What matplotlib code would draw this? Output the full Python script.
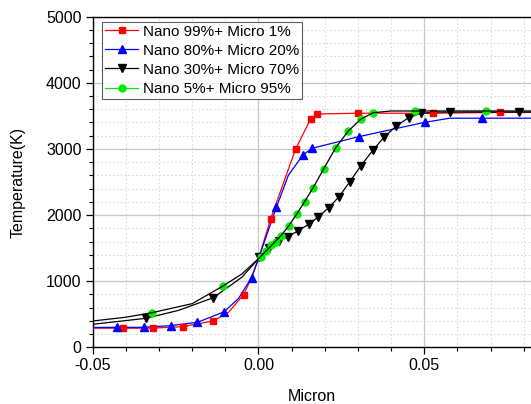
import matplotlib
matplotlib.use("Agg")
import matplotlib.pyplot as plt
from matplotlib.lines import Line2D
from matplotlib.ticker import MultipleLocator, FormatStrFormatter

plt.rcParams['font.family'] = ['Liberation Sans', 'DejaVu Sans']

# Nano 99% + Micro 1% (red squares)
red_x = [-0.0408, -0.0319, -0.0228, -0.0136, -0.0045, 0.0037, 0.0112, 0.0157, 0.0176, 0.0299, 0.0525, 0.0730]
red_y = [287, 290, 312, 398, 796, 1946, 2999, 3448, 3528, 3540, 3540, 3553]
red_line_x = [-0.05, -0.0408, -0.0319, -0.0228, -0.0136, -0.009, -0.0045, -0.002, 0.0, 0.0037, 0.0112, 0.0157, 0.0176, 0.0299, 0.0525, 0.0730, 0.085]
red_line_y = [290, 288, 290, 312, 400, 530, 796, 1060, 1340, 1946, 2999, 3448, 3528, 3540, 3540, 3553, 3553]

# Nano 80% + Micro 20% (blue triangles)
blue_x = [-0.0427, -0.0346, -0.0265, -0.0184, -0.0103, -0.0021, 0.0054, 0.0134, 0.0161, 0.0302, 0.0501, 0.0673]
blue_y = [302, 302, 328, 378, 539, 1053, 2117, 2908, 3009, 3185, 3402, 3465]
blue_line_x = [-0.05, -0.0427, -0.0346, -0.0265, -0.0184, -0.0103, -0.006, -0.0021, 0.0, 0.0054, 0.009, 0.0134, 0.0161, 0.0302, 0.0501, 0.0577, 0.085]
blue_line_y = [300, 302, 302, 328, 378, 539, 740, 1053, 1340, 2117, 2600, 2908, 3009, 3185, 3402, 3465, 3465]

# Nano 30% + Micro 70% (black down triangles)
black_x = [-0.0340, -0.0136, 0.0002, 0.0032, 0.0062, 0.0089, 0.0120, 0.0151, 0.0181, 0.0212, 0.0243, 0.0275,
           0.0309, 0.0345, 0.0380, 0.0416, 0.0453, 0.0489, 0.0579, 0.0786]
black_y = [438, 751, 1360, 1500, 1613, 1673, 1764, 1860, 1976, 2112, 2278, 2500,
           2747, 2979, 3185, 3347, 3473, 3538, 3558, 3558]
black_line_x = [-0.05, -0.034, -0.024, -0.0136, -0.005, 0.0, 0.0032, 0.0062, 0.0089, 0.0120, 0.0151, 0.0181, 0.0212,
                0.0243, 0.0275, 0.0309, 0.0345, 0.0380, 0.0416, 0.0453, 0.0489, 0.0540, 0.085]
black_line_y = [348, 438, 560, 751, 1060, 1340, 1500, 1613, 1673, 1764, 1860, 1976, 2112,
                2278, 2500, 2747, 2979, 3185, 3347, 3473, 3538, 3558, 3558]

# Nano 5% + Micro 95% (green circles, black curve)
green_x = [-0.0321, -0.0107, 0.0007, 0.0024, 0.0039, 0.0052, 0.0067, 0.0091, 0.0115, 0.0139, 0.0165,
           0.0197, 0.0233, 0.0271, 0.0308, 0.0346, 0.0473, 0.0686]
green_y = [524, 927, 1371, 1460, 1540, 1600, 1683, 1835, 2011, 2203, 2414,
           2702, 3019, 3271, 3448, 3548, 3574, 3574]
green_line_x = [-0.05, -0.04, -0.0321, -0.02, -0.0107, -0.005, 0.0, 0.0067, 0.0091, 0.0115, 0.0139, 0.0165,
                0.0197, 0.0233, 0.0271, 0.0308, 0.0346, 0.040, 0.085]
green_line_y = [398, 455, 524, 660, 927, 1110, 1340, 1683, 1835, 2011, 2203, 2414,
                2702, 3019, 3271, 3448, 3548, 3574, 3574]

labels = ['Nano 99%+ Micro 1%', 'Nano 80%+ Micro 20%', 'Nano 30%+ Micro 70%', 'Nano 5%+ Micro 95%']

fig = plt.figure(figsize=(5.31, 4.04), dpi=100)
ax = fig.add_axes([92.7 / 531, 1 - 347.3 / 404, 1 - 92.7 / 531, (347.3 - 16.7) / 404])

ax.plot(red_line_x, red_line_y, color='#ff0000', lw=0.9, zorder=3)
ax.plot(red_x, red_y, 's', color='#ff0000', ms=4.5, zorder=4)
ax.plot(blue_line_x, blue_line_y, color='#0000ff', lw=0.9, zorder=3)
ax.plot(blue_x, blue_y, '^', color='#0000ff', ms=6, zorder=4)
ax.plot(black_line_x, black_line_y, color='black', lw=0.9, zorder=3)
ax.plot(black_x, black_y, 'v', color='black', ms=6, zorder=4)
ax.plot(green_x, green_y, 'o', color='#00ee00', ms=5, zorder=4)
ax.plot(green_line_x, green_line_y, color='black', lw=0.9, zorder=5)

ax.set_xlim(-0.05, 0.0822)
ax.set_ylim(0, 5000)
ax.xaxis.set_major_locator(MultipleLocator(0.05))
ax.xaxis.set_minor_locator(MultipleLocator(0.01))
ax.yaxis.set_major_locator(MultipleLocator(1000))
ax.yaxis.set_minor_locator(MultipleLocator(200))
ax.xaxis.set_major_formatter(FormatStrFormatter('%.2f'))

ax.grid(which='major', color='#c8c8c8', lw=0.9, ls='-', zorder=0)
ax.grid(which='minor', color='#d4d4d4', lw=0.7, ls=(0, (1.5, 2.5)), zorder=0)
ax.set_axisbelow(True)

ax.spines['right'].set_visible(False)
for s in ['left', 'bottom', 'top']:
    ax.spines[s].set_linewidth(1.0)
ax.tick_params(which='major', direction='out', length=5, width=0.9, labelsize=11.5, pad=3)
ax.tick_params(which='minor', direction='out', length=3, width=0.8)

ax.set_xlabel('Micron', fontsize=11.5, labelpad=11)
ax.set_ylabel('Temperature(K)', fontsize=11.5, labelpad=15)

handles = [
    Line2D([], [], color='#ff0000', marker='s', ms=4.5, lw=0.9),
    Line2D([], [], color='#0000ff', marker='^', ms=6, lw=0.9),
    Line2D([], [], color='black', marker='v', ms=6, lw=0.9),
    Line2D([], [], color='#00ee00', marker='o', ms=5, lw=0.9),
]
leg = ax.legend(handles, labels, loc='upper left', bbox_to_anchor=(9.0 / 438.3, 1 - 5.0 / 330.6),
                fontsize=11, frameon=True, fancybox=False, borderpad=0.2, labelspacing=0.33,
                handlelength=2.2, handletextpad=0.3, borderaxespad=0)
leg.get_frame().set_edgecolor('#333333')
leg.get_frame().set_linewidth(0.8)

fig.savefig('out.png', dpi=100)
